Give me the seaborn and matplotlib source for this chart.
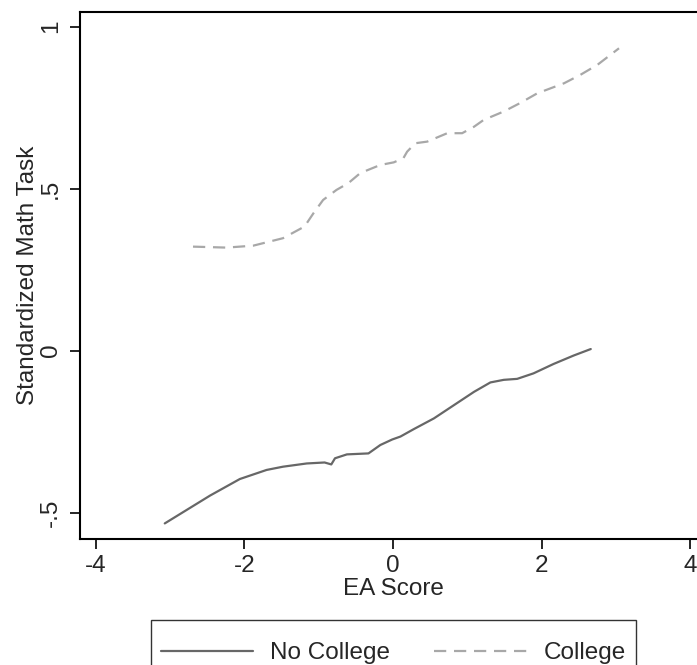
import numpy as np
import pandas as pd
import matplotlib
matplotlib.use("Agg")
import matplotlib.pyplot as plt
import seaborn as sns

# values
no_college_x = [-3.07, -2.46, -2.06, -1.70, -1.48, -1.16, -0.92, -0.83, -0.78, -0.62,
                -0.33, -0.17, -0.01, 0.10, 0.28, 0.55, 0.82, 1.09, 1.31, 1.49,
                1.67, 1.89, 2.16, 2.43, 2.66]
no_college_y = [-0.533, -0.447, -0.396, -0.368, -0.358, -0.348, -0.345, -0.351, -0.332, -0.320,
                -0.317, -0.291, -0.274, -0.265, -0.242, -0.209, -0.168, -0.127, -0.098, -0.090,
                -0.087, -0.070, -0.041, -0.015, 0.005]

college_x = [-2.69, -2.24, -1.88, -1.48, -1.19, -1.07, -0.94, -0.76, -0.60, -0.44,
             -0.17, 0.01, 0.14, 0.19, 0.30, 0.46, 0.73, 0.93, 1.09, 1.22,
             1.49, 1.71, 1.94, 2.30, 2.52, 2.75, 3.04]
college_y = [0.321, 0.318, 0.324, 0.347, 0.383, 0.424, 0.465, 0.496, 0.517, 0.548,
             0.573, 0.581, 0.594, 0.614, 0.640, 0.645, 0.671, 0.671, 0.691, 0.712,
             0.738, 0.764, 0.794, 0.825, 0.851, 0.882, 0.933]

groups = ["No College", "College"]
x_ticks = [-4, -2, 0, 2, 4]
x_tick_labels = ["-4", "-2", "0", "2", "4"]
y_ticks = [-0.5, 0, 0.5, 1]
y_tick_labels = ["-.5", "0", ".5", "1"]

df = pd.concat([
    pd.DataFrame({"ea": no_college_x, "math": no_college_y, "group": groups[0]}),
    pd.DataFrame({"ea": college_x, "math": college_y, "group": groups[1]}),
])

sns.set_style("white")
plt.rcParams["font.family"] = ["Liberation Sans", "DejaVu Sans"]
fs = 17.5

fig = plt.figure(figsize=(6.97, 6.65), dpi=100)
ax = fig.add_axes([80 / 697, (665 - 539.3) / 665, 626 / 697, (539.3 - 12.3) / 665])

sns.lineplot(data=df, x="ea", y="math", hue="group", style="group",
             palette={"No College": "#676767", "College": "#a8a8a8"},
             dashes={"No College": "", "College": (5.5, 3.5)},
             linewidth=1.6, ax=ax, sort=False)

ax.set_xlim(-4.21, 4.21)
ax.set_ylim(-0.582, 1.044)
ax.set_xticks(x_ticks)
ax.set_xticklabels(x_tick_labels)
ax.set_yticks(y_ticks)
ax.set_yticklabels(y_tick_labels, rotation=90, va="center")
ax.tick_params(axis="both", direction="out", length=7, width=1.2, labelsize=fs,
               bottom=True, left=True, color="black")
ax.tick_params(axis="x", pad=4)
ax.tick_params(axis="y", pad=6)
for s in ax.spines.values():
    s.set_linewidth(1.5)
    s.set_color("black")

ax.set_xlabel("EA Score", fontsize=fs, labelpad=1)
ax.set_ylabel("Standardized Math Task", fontsize=fs, labelpad=1)

handles, labels = ax.get_legend_handles_labels()
ax.get_legend().remove()
# blank tiny title gives the extra top padding the Stata legend has
leg = fig.legend(handles, labels, loc="upper center", bbox_to_anchor=(393.5 / 697, (665 - 619.5) / 665),
                 ncol=2, fontsize=fs, frameon=True, fancybox=False, handlelength=3.8,
                 handletextpad=0.7, columnspacing=1.8, borderpad=0.4, borderaxespad=0,
                 title=" ", title_fontsize=1)
leg.get_frame().set_edgecolor("black")
leg.get_frame().set_linewidth(1.0)
for line in leg.get_lines():
    line.set_linewidth(1.6)

fig.savefig("out.png", dpi=100)
